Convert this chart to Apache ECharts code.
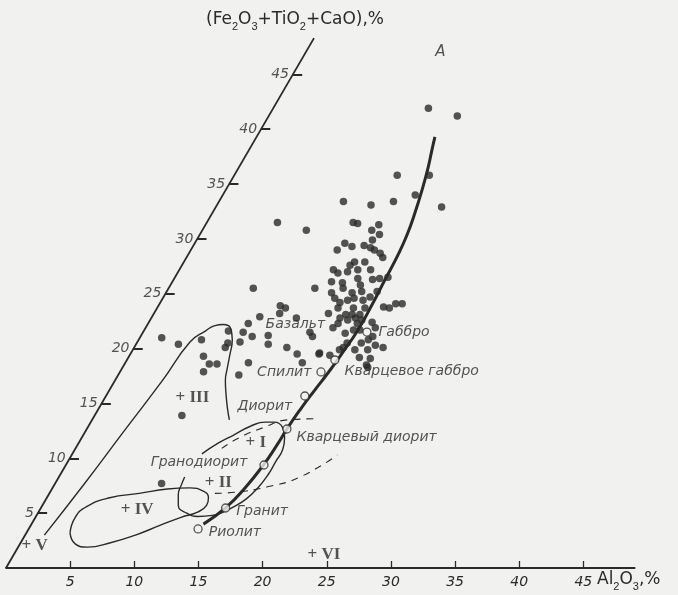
<!DOCTYPE html>
<html><head><meta charset="utf-8">
<script src="https://cdn.jsdelivr.net/npm/echarts@6/dist/echarts.min.js"></script>
<style>html,body{margin:0;padding:0;background:#f1f1ef}#c{width:678px;height:595px}</style>
</head><body><div id="c"></div>
<script>
// ---- data (Al2O3 %, Fe2O3+TiO2+CaO %) ----
const xTicks = [5,10,15,20,25,30,35,40,45];
const yTicks = [5,10,15,20,25,30,35,40,45];
const yAxisTop = 48.3;
const dots = [
 [12.1,41.9],[14.7,41.2],[12.7,35.8],[15.2,35.8],[15.0,34.0],[17.6,32.9],[9.7,33.4],[12.0,33.1],[13.6,33.4],
 [5.5,31.5],[8.1,30.8],[11.4,29.0],[11.4,31.5],[11.8,31.4],[13.5,31.3],[13.2,30.8],[14.0,30.4],[11.7,29.6],[12.4,29.3],
 [13.3,29.4],[13.9,29.2],[14.3,29.0],[14.9,28.7],[15.3,28.3],[13.7,29.9],
 [13.3,27.9],[13.9,27.2],[14.3,26.4],[14.8,25.8],[15.2,25.2],
 [12.0,27.2],[12.5,26.9],[12.4,26.1],[13.3,26.0],[13.6,25.5],
 [15.5,26.3],[16.0,26.4],[16.6,26.5],[11.4,25.5],[6.6,25.5],
 [12.9,25.1],[13.4,24.6],[14.0,24.2],[14.5,25.1],[14.9,24.6],[16.1,24.7],[16.4,25.2],
 [17.6,23.8],[18.1,23.7],[18.4,24.1],[18.9,24.1],[15.3,23.7],[13.6,23.2],
 [15.0,23.1],[15.5,23.1],[16.1,23.1],[16.3,22.3],[14.8,22.3],[14.6,21.9],[16.3,21.7],[16.8,21.7],[17.4,22.4],
 [17.9,20.8],[18.1,21.1],[18.7,20.3],[19.4,20.1],[18.3,19.9],[18.9,19.1],[19.1,18.3],[16.4,20.5],
 [14.7,19.6],[15.6,19.4],[13.0,21.5],[13.4,21.1],[13.8,18.7],
 [9.5,23.9],[10.0,23.7],[9.8,23.2],[8.4,22.9],[7.8,22.3],[11.3,22.8],[7.8,21.5],[8.7,21.1],[9.9,21.2],[10.3,20.4],[8.0,20.6],[11.9,20.1],
 [1.7,21.0],[3.3,20.4],[4.9,20.8],[6.6,21.6],[7.1,20.5],[7.1,20.1],[5.8,19.3],[6.6,18.6],[7.2,18.6],[6.5,17.9],[9.6,18.7],[9.4,17.6],
 [13.0,19.5],[14.7,19.5],[6.8,13.9],[8.3,7.7],
 [15.4,22.6],[15.9,22.8],[16.5,22.6],[14.7,22.8],[16.3,20.1],[17.3,19.9],[18.0,19.2],[18.9,18.5],[15.7,24.4],
 [13.2,27.0],[13.1,27.6],[14.1,27.9],[14.9,27.2],[14.5,24.4],[14.1,23.7],[16.2,23.7],[15.8,21.4],[17.9,21.9],[17.5,20.5],[16.1,19.9]
];
const lineA = [
 [13.4,4.0],[14.4,5.5],[15.0,7.3],[15.4,9.4],[15.55,11.2],[15.6,12.7],[15.75,14.4],[16.0,16.2],[16.26,17.8],
 [16.48,19.7],[16.65,21.7],[16.6,24.0],[16.48,26.25],[16.37,28.5],[16.16,30.4],[15.78,32.4],[15.29,34.5],
 [14.76,36.5],[14.26,38.1],[13.9,39.3]
];
const rockNames = ['Риолит','Гранит','Гранодиорит','Кварцевый диорит','Диорит','Спилит','Кварцевое габбро','Габбро'];
const rockValues = [[13.2,3.56],[14.4,5.47],[15.44,9.39],[15.6,12.67],[15.5,15.68],[15.67,17.87],[16.21,18.96],[17.44,21.51]];
const basaltLabel = {name:'Базальт', value:[9.2,22.2]};
const contourIII = [
 [1.5,3.0],[2.3,7.7],[3.0,12.5],[3.7,17.1],[4.1,20.6],[4.8,21.6],[5.3,22.1],
 [5.9,22.2],[6.6,21.9],[7.3,20.8],[7.8,19.4],[8.2,18.2],[8.6,17.1],[9.3,15.8],[10.0,14.6],[10.7,13.5]
];
const contourI_II = [
 [10.1,10.4],[10.9,11.4],[11.7,12.1],[12.6,12.9],[13.6,13.3],[14.3,13.3],[15.2,12.8],[15.8,11.9],[16.2,10.8],
 [16.2,9.7],[16.2,8.5],[16.0,7.3],[15.6,6.3],[15.0,5.6],[14.4,5.1],[13.7,4.8],[12.6,4.7],[11.6,5.0],
 [10.6,5.7],[10.1,6.7],[9.9,7.6],[9.8,8.3]
];
const contourIV = [
 [3.4,3.2],[3.1,4.6],[3.5,5.6],[4.9,6.4],[7.0,6.8],[9.0,7.2],[10.7,7.3],[11.9,7.0],[12.6,6.4],[12.8,5.7],
 [12.4,5.1],[11.3,4.6],[10.1,3.9],[8.6,3.0],[7.0,2.3],[5.4,1.9],[4.3,2.2],[3.4,3.2]
];
const dashed1 = [[11.4,10.9],[12.3,11.9],[13.7,12.8],[15.2,13.5],[17.2,13.6]];
const dashed2 = [[12.9,6.8],[14.4,6.9],[16.7,7.4],[18.8,8.3],[20.7,10.3]];
const regionNames = ['+ I','+ II','+ III','+ IV','+ V','+ VI'];
const regionAnchors = [[13.4,11.4],[12.0,7.8],[5.9,15.5],[6.7,5.3],[0.6,2.0],[23.3,1.2]];
const curveLabel = {name:'A', value:[10.5,47.0]};

// ---- oblique (60°) frame -> cartesian ----
const KX = 0.497, KY = 0.855;
const T = p => [p[0] + KX*p[1], KY*p[1]];
const S = 12.83, XMAX = 49, YMAX = 44, X0 = 6, Y0 = 568;
const ink = '#2a2a2a', bg = '#f1f1ef';
const fontIt = {fontFamily:'DejaVu Sans', fontStyle:'italic', fontSize:14, color:ink};

const slantAxis = [{coords:[T([0,0]), T([0,yAxisTop])]}];
yTicks.forEach(v => { const p = T([0,v]); slantAxis.push({coords:[p,[p[0]+0.72,p[1]]]}); });

const rockLabelPos = {
 'Риолит':{position:'right',offset:[2,3]},
 'Гранит':{position:'right',offset:[2,3]},
 'Гранодиорит':{position:'left',offset:[-8,-3]},
 'Кварцевый диорит':{position:'right',offset:[1,8]},
 'Диорит':{position:'left',offset:[-4,10]},
 'Спилит':{position:'left',offset:[-1,0]},
 'Кварцевое габбро':{position:'right',offset:[1,11]},
 'Габбро':{position:'right',offset:[3,0]}
};

const line = (data, extra) => Object.assign({type:'line', data:data.map(T), smooth:true, showSymbol:false, symbol:'none',
  lineStyle:{color:ink, width:1.4}, silent:true, z:3}, extra||{});

const chart = echarts.init(document.getElementById('c'), null, {renderer:'canvas'});
chart.setOption({
 backgroundColor: bg,
 animation:false,
 grid:{left:X0, top:Y0 - YMAX*S, width:XMAX*S, height:YMAX*S, containLabel:false},
 xAxis:{type:'value', min:0, max:XMAX, splitLine:{show:false},
   axisLine:{show:true, lineStyle:{color:ink, width:1.8}},
   axisTick:{show:true, inside:true, length:7, customValues:xTicks, lineStyle:{color:ink, width:1.3}},
   axisLabel:Object.assign({customValues:xTicks, margin:7, fontSize:15}, fontIt)},
 yAxis:{type:'value', min:0, max:YMAX, show:false},
 graphic:[
  {type:'text', left:206, top:11, style:{text:'(Fe{s|2}O{s|3}+TiO{s|2}+CaO),%', fill:ink,
    font:'17px "DejaVu Sans"', rich:{s:{fontSize:11, verticalAlign:'bottom', lineHeight:25, fill:ink}}}},
  {type:'text', left:597, top:571, style:{text:'Al{s|2}O{s|3},%', fill:ink,
    font:'17px "DejaVu Sans"', rich:{s:{fontSize:11, verticalAlign:'bottom', lineHeight:25, fill:ink}}}}
 ],
 series:[
  {type:'lines', coordinateSystem:'cartesian2d', data:slantAxis, lineStyle:{color:ink, width:1.8, opacity:1}, silent:true, z:2},
  {type:'scatter', symbolSize:0, silent:true, data:yTicks.map(v=>({name:String(v), value:T([0,v])})),
   label:Object.assign({show:true, position:'left', distance:4, formatter:'{b}', fontSize:15}, fontIt)},
  line(contourIII),
  line(contourI_II),
  line(contourIV),
  line(dashed1, {smooth:true, lineStyle:{color:ink, width:1.1, type:[7,6]}}),
  line(dashed2, {smooth:true, lineStyle:{color:ink, width:1.1, type:[7,6]}}),
  line(lineA, {lineStyle:{color:ink, width:3}, z:4}),
  {type:'scatter', data:dots.map(T), symbolSize:7.5, itemStyle:{color:ink}, silent:true, z:5},
  {type:'scatter', data:rockNames.map((n,i)=>({name:n, value:T(rockValues[i]), label:rockLabelPos[n]})),
   symbol:'circle', symbolSize:8, itemStyle:{color:bg, borderColor:ink, borderWidth:1.3}, silent:true, z:6,
   label:Object.assign({show:true, formatter:'{b}', distance:4}, fontIt)},
  {type:'scatter', symbolSize:0, silent:true, z:6, data:[{name:basaltLabel.name, value:T(basaltLabel.value)}],
   label:Object.assign({show:true, position:'inside', align:'left', formatter:'{b}'}, fontIt)},
  {type:'scatter', symbolSize:0, silent:true, z:6, data:[{name:curveLabel.name, value:T(curveLabel.value)}],
   label:Object.assign({show:true, position:'inside', formatter:'{b}'}, fontIt, {fontSize:15})},
  {type:'scatter', symbolSize:0, silent:true, z:6,
   data:regionNames.map((n,i)=>({name:n, value:T(regionAnchors[i])})),
   label:{show:true, position:'inside', align:'left', offset:[-5,0], formatter:'{b}', color:ink,
     fontFamily:'Liberation Serif', fontWeight:'bold', fontSize:17}}
 ]
});
</script></body></html>
